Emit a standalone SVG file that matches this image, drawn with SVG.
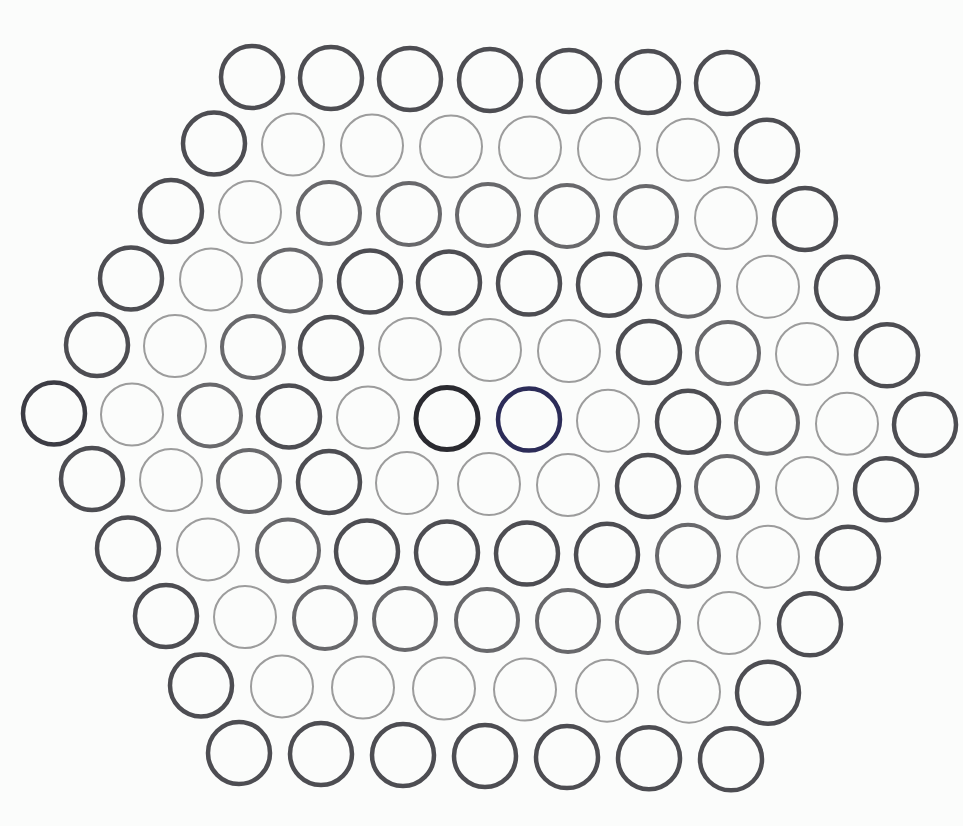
<svg xmlns="http://www.w3.org/2000/svg" width="963" height="826" viewBox="0 0 963 826">
<style>
circle{fill:none}
.d{stroke:#4d4d52;stroke-width:4.5}
.m{stroke:#68686b;stroke-width:4}
.l{stroke:#9c9c9c;stroke-width:2}
.k{stroke:#2a2a30;stroke-width:5}
.n{stroke:#2c2c58;stroke-width:4.5}
.e{stroke:#3c3c44;stroke-width:4.5}
</style>
<rect width="963" height="826" fill="#fbfcfb"/>
<g id="connectors"/>
<g id="row0">
<g id="r0c0"><circle class="d" cx="252" cy="77" r="31"/></g>
<g id="r0c1"><circle class="d" cx="331" cy="78" r="31"/></g>
<g id="r0c2"><circle class="d" cx="410" cy="79" r="31"/></g>
<g id="r0c3"><circle class="d" cx="490" cy="80" r="31"/></g>
<g id="r0c4"><circle class="d" cx="569" cy="81" r="31"/></g>
<g id="r0c5"><circle class="d" cx="648" cy="82" r="31"/></g>
<g id="r0c6"><circle class="d" cx="727" cy="83" r="31"/></g>
</g>
<g id="row1">
<g id="r1c0"><circle class="d" cx="214" cy="143.5" r="31"/></g>
<g id="r1c1"><circle class="l" cx="293" cy="144.6" r="31"/></g>
<g id="r1c2"><circle class="l" cx="372" cy="145.6" r="31"/></g>
<g id="r1c3"><circle class="l" cx="451" cy="146.6" r="31"/></g>
<g id="r1c4"><circle class="l" cx="530" cy="147.6" r="31"/></g>
<g id="r1c5"><circle class="l" cx="609" cy="148.7" r="31"/></g>
<g id="r1c6"><circle class="l" cx="688" cy="149.7" r="31"/></g>
<g id="r1c7"><circle class="d" cx="767" cy="150.7" r="31"/></g>
</g>
<g id="row2">
<g id="r2c0"><circle class="d" cx="171" cy="211" r="31"/></g>
<g id="r2c1"><circle class="l" cx="250" cy="212" r="31"/></g>
<g id="r2c2"><circle class="m" cx="329" cy="213" r="31"/></g>
<g id="r2c3"><circle class="m" cx="409" cy="214" r="31"/></g>
<g id="r2c4"><circle class="m" cx="488" cy="215" r="31"/></g>
<g id="r2c5"><circle class="m" cx="567" cy="216" r="31"/></g>
<g id="r2c6"><circle class="m" cx="646" cy="217" r="31"/></g>
<g id="r2c7"><circle class="l" cx="726" cy="218" r="31"/></g>
<g id="r2c8"><circle class="d" cx="805" cy="219" r="31"/></g>
</g>
<g id="row3">
<g id="r3c0"><circle class="d" cx="131" cy="278.5" r="31"/></g>
<g id="r3c1"><circle class="l" cx="211" cy="279.5" r="31"/></g>
<g id="r3c2"><circle class="m" cx="290" cy="280.5" r="31"/></g>
<g id="r3c3"><circle class="d" cx="370" cy="281.6" r="31"/></g>
<g id="r3c4"><circle class="d" cx="449" cy="282.6" r="31"/></g>
<g id="r3c5"><circle class="d" cx="529" cy="283.6" r="31"/></g>
<g id="r3c6"><circle class="d" cx="609" cy="284.7" r="31"/></g>
<g id="r3c7"><circle class="m" cx="688" cy="285.7" r="31"/></g>
<g id="r3c8"><circle class="l" cx="768" cy="286.7" r="31"/></g>
<g id="r3c9"><circle class="d" cx="847" cy="287.8" r="31"/></g>
</g>
<g id="row4">
<g id="r4c0"><circle class="d" cx="97" cy="345" r="31"/></g>
<g id="r4c1"><circle class="l" cx="175" cy="346" r="31"/></g>
<g id="r4c2"><circle class="m" cx="253" cy="347" r="31"/></g>
<g id="r4c3"><circle class="d" cx="331" cy="348" r="31"/></g>
<g id="r4c4"><circle class="l" cx="410" cy="349" r="31"/></g>
<g id="r4c5"><circle class="l" cx="490" cy="350" r="31"/></g>
<g id="r4c6"><circle class="l" cx="569" cy="351" r="31"/></g>
<g id="r4c7"><circle class="d" cx="649" cy="352" r="31"/></g>
<g id="r4c8"><circle class="m" cx="728" cy="353" r="31"/></g>
<g id="r4c9"><circle class="l" cx="807" cy="354" r="31"/></g>
<g id="r4c10"><circle class="d" cx="887" cy="355.3" r="31"/></g>
</g>
<g id="row5">
<g id="r5c0"><circle class="e" cx="54" cy="413.5" r="31"/></g>
<g id="r5c1"><circle class="l" cx="132" cy="414.5" r="31"/></g>
<g id="r5c2"><circle class="m" cx="210" cy="415.5" r="31"/></g>
<g id="r5c3"><circle class="d" cx="289" cy="416.5" r="31"/></g>
<g id="r5c4"><circle class="l" cx="368" cy="417.5" r="31"/></g>
<g id="r5c5"><circle class="k" cx="447" cy="418.6" r="31"/></g>
<g id="r5c6"><circle class="n" cx="529" cy="419.6" r="31"/></g>
<g id="r5c7"><circle class="l" cx="608" cy="420.7" r="31"/></g>
<g id="r5c8"><circle class="d" cx="688" cy="421.7" r="31"/></g>
<g id="r5c9"><circle class="m" cx="767" cy="422.7" r="31"/></g>
<g id="r5c10"><circle class="l" cx="847" cy="423.8" r="31"/></g>
<g id="r5c11"><circle class="d" cx="925" cy="424.8" r="31"/></g>
</g>
<g id="row6">
<g id="r6c0"><circle class="d" cx="92" cy="479" r="31"/></g>
<g id="r6c1"><circle class="l" cx="171" cy="480" r="31"/></g>
<g id="r6c2"><circle class="m" cx="249" cy="481" r="31"/></g>
<g id="r6c3"><circle class="d" cx="329" cy="482" r="31"/></g>
<g id="r6c4"><circle class="l" cx="407" cy="483" r="31"/></g>
<g id="r6c5"><circle class="l" cx="489" cy="484" r="31"/></g>
<g id="r6c6"><circle class="l" cx="568" cy="485" r="31"/></g>
<g id="r6c7"><circle class="d" cx="648" cy="486" r="31"/></g>
<g id="r6c8"><circle class="m" cx="727" cy="487" r="31"/></g>
<g id="r6c9"><circle class="l" cx="807" cy="488" r="31"/></g>
<g id="r6c10"><circle class="d" cx="886" cy="489.3" r="31"/></g>
</g>
<g id="row7">
<g id="r7c0"><circle class="d" cx="128" cy="548.4" r="31"/></g>
<g id="r7c1"><circle class="l" cx="208" cy="549.4" r="31"/></g>
<g id="r7c2"><circle class="m" cx="288" cy="550.5" r="31"/></g>
<g id="r7c3"><circle class="d" cx="367" cy="551.5" r="31"/></g>
<g id="r7c4"><circle class="d" cx="447" cy="552.6" r="31"/></g>
<g id="r7c5"><circle class="d" cx="527" cy="553.6" r="31"/></g>
<g id="r7c6"><circle class="d" cx="607" cy="554.7" r="31"/></g>
<g id="r7c7"><circle class="m" cx="688" cy="555.7" r="31"/></g>
<g id="r7c8"><circle class="l" cx="768" cy="556.7" r="31"/></g>
<g id="r7c9"><circle class="d" cx="848" cy="557.8" r="31"/></g>
</g>
<g id="row8">
<g id="r8c0"><circle class="d" cx="166" cy="616" r="31"/></g>
<g id="r8c1"><circle class="l" cx="245" cy="617" r="31"/></g>
<g id="r8c2"><circle class="m" cx="325" cy="618" r="31"/></g>
<g id="r8c3"><circle class="m" cx="405" cy="619" r="31"/></g>
<g id="r8c4"><circle class="m" cx="487" cy="620" r="31"/></g>
<g id="r8c5"><circle class="m" cx="568" cy="621" r="31"/></g>
<g id="r8c6"><circle class="m" cx="648" cy="622" r="31"/></g>
<g id="r8c7"><circle class="l" cx="729" cy="623" r="31"/></g>
<g id="r8c8"><circle class="d" cx="810" cy="624.3" r="31"/></g>
</g>
<g id="row9">
<g id="r9c0"><circle class="d" cx="201" cy="685.4" r="31"/></g>
<g id="r9c1"><circle class="l" cx="282" cy="686.4" r="31"/></g>
<g id="r9c2"><circle class="l" cx="363" cy="687.5" r="31"/></g>
<g id="r9c3"><circle class="l" cx="444" cy="688.5" r="31"/></g>
<g id="r9c4"><circle class="l" cx="525" cy="689.6" r="31"/></g>
<g id="r9c5"><circle class="l" cx="607" cy="690.7" r="31"/></g>
<g id="r9c6"><circle class="l" cx="689" cy="691.7" r="31"/></g>
<g id="r9c7"><circle class="d" cx="768" cy="692.7" r="31"/></g>
</g>
<g id="row10">
<g id="r10c0"><circle class="d" cx="239" cy="752.9" r="31"/></g>
<g id="r10c1"><circle class="d" cx="321" cy="753.9" r="31"/></g>
<g id="r10c2"><circle class="d" cx="403" cy="755" r="31"/></g>
<g id="r10c3"><circle class="d" cx="485" cy="756" r="31"/></g>
<g id="r10c4"><circle class="d" cx="567" cy="757.1" r="31"/></g>
<g id="r10c5"><circle class="d" cx="649" cy="758.2" r="31"/></g>
<g id="r10c6"><circle class="d" cx="731" cy="759.3" r="31"/></g>
</g>
</svg>
